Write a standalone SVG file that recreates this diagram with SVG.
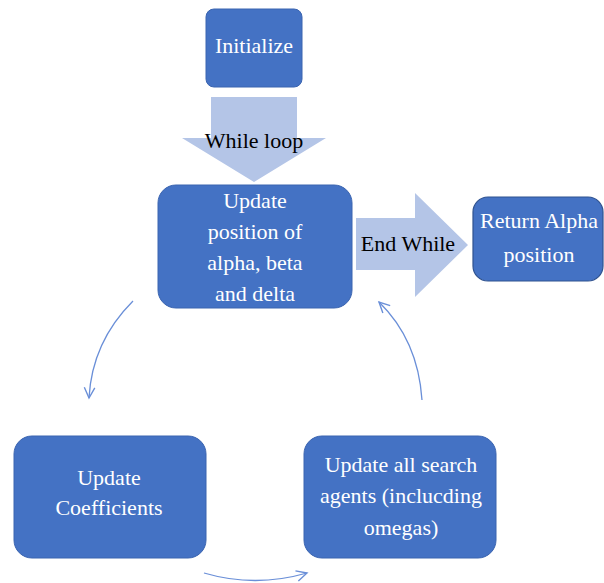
<svg xmlns="http://www.w3.org/2000/svg" width="604" height="583" viewBox="0 0 604 583">
<style>
.box{fill:#4472c4;stroke:#3a64b0;stroke-width:1}
.box2{fill:#4472c4;stroke:#2f528f;stroke-width:1.2}
.big{fill:#b4c5e7}
.t{font-family:'Liberation Serif','DejaVu Serif',serif;font-size:22px;text-anchor:middle}
.w{fill:#ffffff}
.k{fill:#000000}
.c{fill:none;stroke:#6a8fd8;stroke-width:1.3}
</style>
<defs>
<marker id="ah" markerWidth="14" markerHeight="14" refX="10" refY="5" orient="auto" markerUnits="userSpaceOnUse" viewBox="0 0 12 10">
<path d="M1,0.5 L10,5 L1,9.5" fill="none" stroke="#6a8fd8" stroke-width="1.2"/>
</marker>
</defs>
<g id="connectors">
<polygon class="big" points="211,97 297,97 297,138 326,138 254,182 182,138 211,138"/>
<polygon class="big" points="356,218 415,218 415,193 468,245 415,297 415,270 356,270"/>
<path class="c" d="M133,301 Q92,342 89,398" marker-end="url(#ah)"/>
<path class="c" d="M422,400 Q418,340 379,302" marker-end="url(#ah)"/>
<path class="c" d="M204,573 Q255,588 307,573" marker-end="url(#ah)"/>
<text class="t k" font-family="Liberation Serif, serif" x="254" y="148">While loop</text>
<text class="t k" font-family="Liberation Serif, serif" x="408" y="251">End While</text>
</g>
<g id="initialize">
<rect class="box" x="206" y="9" width="96" height="78" rx="8"/>
<text class="t w" font-family="Liberation Serif, serif" x="254" y="53">Initialize</text>
</g>
<g id="update-position">
<rect class="box" x="158" y="185" width="194" height="123" rx="18"/>
<text class="t w" x="255" y="208">Update</text>
<text class="t w" x="255" y="239">position of</text>
<text class="t w" x="255" y="270">alpha, beta</text>
<text class="t w" x="255" y="301">and delta</text>
</g>
<g id="return-alpha">
<rect class="box2" x="473" y="197" width="130" height="84" rx="15"/>
<text class="t w" x="539" y="228">Return Alpha</text>
<text class="t w" x="539" y="262">position</text>
</g>
<g id="update-coefficients">
<rect class="box" x="14" y="436" width="192" height="122" rx="18"/>
<text class="t w" x="109" y="485">Update</text>
<text class="t w" x="109" y="515">Coefficients</text>
</g>
<g id="update-agents">
<rect class="box" x="304" y="436" width="192" height="122" rx="18"/>
<text class="t w" x="401" y="472">Update all search</text>
<text class="t w" x="401" y="503">agents (inclucding</text>
<text class="t w" x="401" y="535">omegas)</text>
</g>
</svg>
